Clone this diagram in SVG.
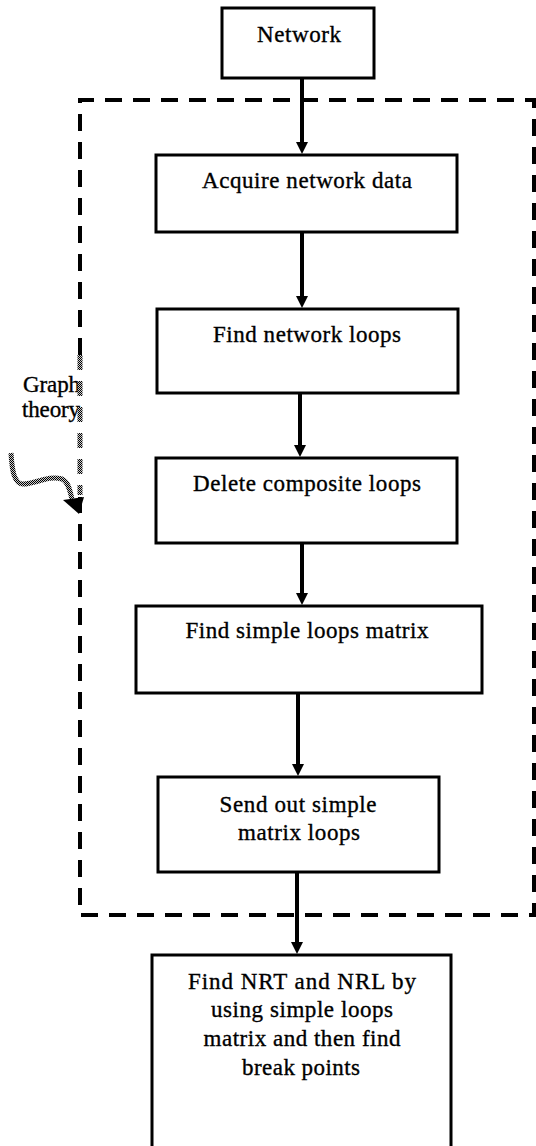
<svg xmlns="http://www.w3.org/2000/svg" width="536" height="1146" viewBox="0 0 536 1146">
<style>
.box{fill:#fff;stroke:#000;stroke-width:3}
.t{font-family:"Liberation Serif","Times New Roman",serif;font-size:23px;fill:#000;stroke:#000;stroke-width:0.35;text-anchor:middle}
.tl{font-family:"Liberation Serif","Times New Roman",serif;font-size:23px;fill:#000;stroke:#000;stroke-width:0.35}
.conn{stroke:#000;stroke-width:4;fill:none}
</style>
<defs>
<marker id="ah" markerUnits="userSpaceOnUse" markerWidth="12" markerHeight="12" refX="4" refY="6" orient="auto">
<path d="M0,0 L12,6 L0,12 z" fill="#000"/>
</marker>
<pattern id="hatch" width="2" height="2" patternUnits="userSpaceOnUse">
<rect width="2" height="2" fill="#ccc"/>
<rect width="1" height="1" fill="#000"/>
<rect x="1" y="1" width="1" height="1" fill="#000"/>
</pattern>
</defs>
<rect width="536" height="1146" fill="#fff"/>

<g id="boundary">
<path d="M80,355 V100 H534 V915 H80 V497" fill="none" stroke="#000" stroke-width="4" stroke-dasharray="17 11"/>
</g>

<g id="graph-theory">
<text class="tl" x="23" y="392" textLength="57" lengthAdjust="spacing">Graph</text>
<text class="tl" x="22" y="417" textLength="58" lengthAdjust="spacing">theory</text>
<path d="M80,355 V495" fill="none" stroke="url(#hatch)" stroke-width="5" stroke-dasharray="15 11"/>
<path d="M11,453 C12,470 14,484 23,484 C36,484 48,475 62,479 C69,482 70,492 72,499" fill="none" stroke="url(#hatch)" stroke-width="5"/>
<polygon points="63,500 84,497 79,514" fill="#000"/>
</g>

<g id="connectors">
<line class="conn" x1="302" y1="78" x2="302" y2="146" marker-end="url(#ah)"/>
<line class="conn" x1="302" y1="232" x2="302" y2="300" marker-end="url(#ah)"/>
<line class="conn" x1="300" y1="393" x2="300" y2="449" marker-end="url(#ah)"/>
<line class="conn" x1="302" y1="543" x2="302" y2="597" marker-end="url(#ah)"/>
<line class="conn" x1="298" y1="693" x2="298" y2="768" marker-end="url(#ah)"/>
<line class="conn" x1="297" y1="872" x2="297" y2="946" marker-end="url(#ah)"/>
</g>

<g id="network">
<rect class="box" x="222" y="8" width="152" height="70"/>
<text class="t" x="299" y="42" textLength="84" lengthAdjust="spacing">Network</text>
</g>
<g id="acquire">
<rect class="box" x="156" y="155" width="301" height="77"/>
<text class="t" x="307" y="188" textLength="210" lengthAdjust="spacing">Acquire network data</text>
</g>
<g id="find-loops">
<rect class="box" x="157" y="309" width="301" height="84"/>
<text class="t" x="307" y="342" textLength="188" lengthAdjust="spacing">Find network loops</text>
</g>
<g id="delete-composite">
<rect class="box" x="156" y="458" width="301" height="85"/>
<text class="t" x="307" y="491" textLength="228" lengthAdjust="spacing">Delete composite loops</text>
</g>
<g id="simple-matrix">
<rect class="box" x="136" y="606" width="346" height="87"/>
<text class="t" x="307" y="638" textLength="243" lengthAdjust="spacing">Find simple loops matrix</text>
</g>
<g id="send-out">
<rect class="box" x="158" y="777" width="281" height="95"/>
<text class="t" x="298" y="812" textLength="157" lengthAdjust="spacing">Send out simple</text>
<text class="t" x="299" y="840" textLength="122" lengthAdjust="spacing">matrix loops</text>
</g>
<g id="find-nrt">
<rect class="box" x="152" y="955" width="299" height="200"/>
<text class="t" x="302" y="989" textLength="228" lengthAdjust="spacing">Find NRT and NRL by</text>
<text class="t" x="302" y="1017" textLength="182" lengthAdjust="spacing">using simple loops</text>
<text class="t" x="302" y="1046" textLength="197" lengthAdjust="spacing">matrix and then find</text>
<text class="t" x="301" y="1075" textLength="118" lengthAdjust="spacing">break points</text>
</g>
</svg>
